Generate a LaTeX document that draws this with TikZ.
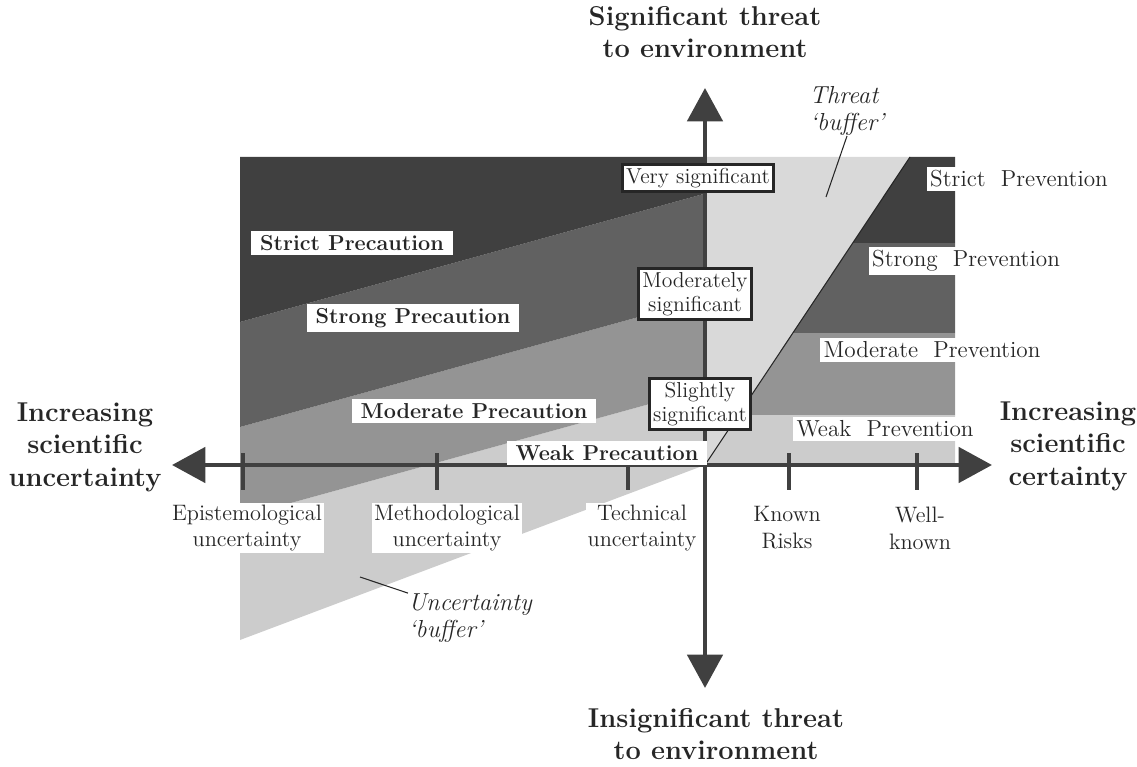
\documentclass[tikz,border=0pt]{standalone}
\usetikzlibrary{arrows.meta}
\begin{document}
\begin{tikzpicture}[x=0.02cm,y=-0.02cm]
        \tikzstyle{band}=[fill=white,inner xsep=5pt,inner ysep=2.5pt,text=black!85,font=\fontsize{12.3}{14}\selectfont\bfseries]
        \tikzstyle{prev}=[fill=white,inner sep=2pt,text=black!85,font=\fontsize{13.2}{15}\selectfont]
        \tikzstyle{sigbox}=[fill=white,draw=black!85,line width=1.6pt,inner sep=2pt,align=center,text=black!85,font=\fontsize{12.3}{13.6}\selectfont]
        \tikzstyle{ticklabel}=[fill=white,inner sep=1pt,align=center,text=black!85,font=\fontsize{12.7}{15.3}\selectfont]
        \tikzstyle{axtitle}=[align=center,text=black!85,font=\fontsize{15.5}{18.5}\selectfont\bfseries]
        \tikzstyle{buffer}=[inner sep=0pt,align=left,text=black!85,font=\fontsize{14}{15.5}\selectfont\itshape]
        \tikzstyle{mainaxis}=[draw=black!75,line width=2.6pt,{Triangle[length=19pt,width=20pt]}-{Triangle[length=19pt,width=20pt]}]
        \tikzstyle{leader}=[draw=black!85,line width=0.6pt]
        \useasboundingbox (0,0) rectangle (1137,767);

        % precaution zones
        \begin{scope}
         \fill[black!20] (240,517) -- (705,388.7) -- (705,465) -- (240,640) -- cycle;
         \fill[black!42] (240,427) -- (705,298.7) -- (705,388.7) -- (240,517) -- cycle;
         \fill[black!62] (240,322) -- (705,193.6) -- (705,298.7) -- (240,427) -- cycle;
         \fill[black!75] (240,157) -- (705,157) -- (705,193.6) -- (240,322) -- cycle;
        \end{scope}

        % prevention zones
        \begin{scope}
         \fill[black!15] (705,157) -- (910,157) -- (705,465) -- cycle;
         \fill[black!75] (910,157) -- (955,157) -- (955,243) -- (852.8,243) -- cycle;
         \fill[black!62] (852.8,243) -- (955,243) -- (955,333) -- (792.9,333) -- cycle;
         \fill[black!42] (792.9,333) -- (955,333) -- (955,415) -- (738.3,415) -- cycle;
         \fill[black!20] (738.3,415) -- (955,415) -- (955,465) -- (705,465) -- cycle;
        \end{scope}

        \coordinate (O) at (705,465);
        \coordinate (T) at (910,157);
        \coordinate (xl) at (172,465);
        \coordinate (xr) at (992,465);
        \coordinate (yt) at (705,88);
        \coordinate (yb) at (705,688);
        \draw[leader] (O) -- (T);

        % axes
        \draw[mainaxis] (xl) -- (xr);
        \draw[mainaxis] (yb) -- (yt);
        \foreach \x in {243,437,628,789,917}
          \draw[black!75,line width=2pt] (\x,453) -- (\x,490);

        % zone labels
        \node [band] (strictpc) at (352,243) {Strict Precaution};
        \node [band] (strongpc) at (413,318) {Strong Precaution};
        \node [band] (moderatepc) at (474,411) {Moderate Precaution};
        \node [band] (weakpc) at (607,453) {Weak Precaution};
        \node [prev] (strictpv) at (1019,179) {Strict\ \ Prevention};
        \node [prev] (strongpv) at (966,261) {Strong\ \ Prevention};
        \node [prev] (moderatepv) at (932,350) {Moderate\ \ Prevention};
        \node [prev] (weakpv) at (885,429) {Weak\ \ Prevention};

        % threat levels
        \node [sigbox] (very) at (698,178) {Very significant};
        \node [sigbox] (moderately) at (695,294) {Moderately\\significant};
        \node [sigbox] (slightly) at (700,404) {Slightly\\significant};

        % certainty levels
        \node [ticklabel] (epi) at (247,528) {Epistemological\\uncertainty};
        \node [ticklabel] (meth) at (447,528) {Methodological\\uncertainty};
        \node [ticklabel] (tech) at (642,528) {Technical\\uncertainty};
        \node [ticklabel] (known) at (787,528) {Known\\Risks};
        \node [ticklabel] (wellknown) at (920,528) {Well-\\known};

        % axis titles
        \node [axtitle] (top) at (705,32) {Significant threat\\to environment};
        \node [axtitle] (bottom) at (716,734) {Insignificant threat\\to environment};
        \node [axtitle] (left) at (85,447) {Increasing\\scientific\\uncertainty};
        \node [axtitle] (right) at (1068,446) {Increasing\\scientific\\certainty};

        % buffers
        \node [buffer] (tbuf) at (847,111) {Threat\\`buffer'};
        \node [buffer,anchor=west] (ubuf) at (408,618) {Uncertainty\\`buffer'};
        \coordinate (tbend) at (826,197);
        \coordinate (ubend) at (360,577);
        \draw[leader] (tbuf.south) -- (tbend);
        \draw[leader] (ubuf.north west) -- (ubend);
\end{tikzpicture}
\end{document}
